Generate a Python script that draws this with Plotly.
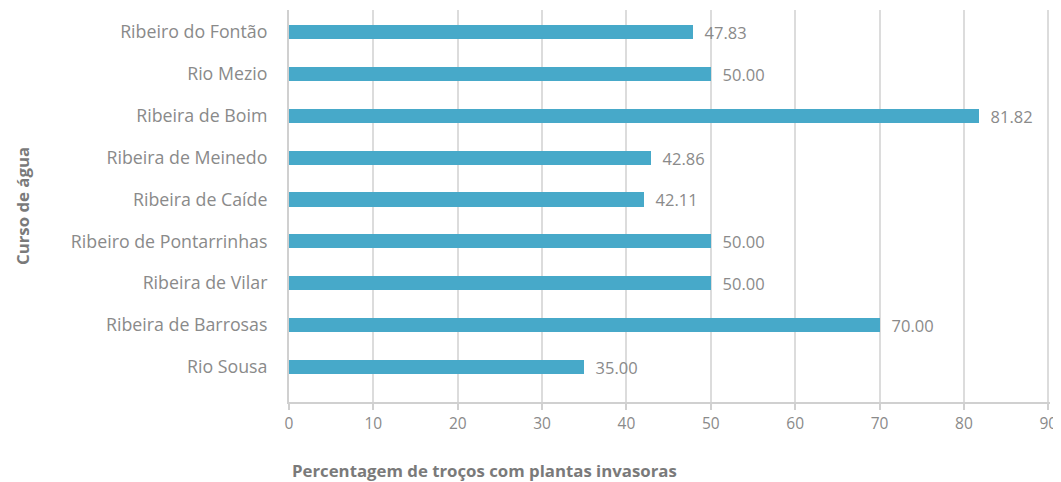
import plotly.graph_objects as go

categories = ["Rio Sousa", "Ribeira de Barrosas", "Ribeira de Vilar", "Ribeiro de Pontarrinhas",
              "Ribeira de Caíde", "Ribeira de Meinedo", "Ribeira de Boim", "Rio Mezio", "Ribeiro do Fontão"]
values = [35.00, 70.00, 50.00, 50.00, 42.11, 42.86, 81.82, 50.00, 47.83]
x_ticks = [0, 10, 20, 30, 40, 50, 60, 70, 80, 90]

FONT = "Open Sans"
GREY = "#8a8a8a"
TITLE_GREY = "#7a7a7a"

fig = go.Figure(go.Bar(
    y=categories, x=values, orientation="h",
    marker=dict(color="#47A9C9", line=dict(width=0)),
    width=0.34,
    text=["\u00a0\u00a0" + f"{v:.2f}" for v in values],
    textposition="outside",
    constraintext="none",
    textfont=dict(family=FONT, size=16.5, color=GREY),
    cliponaxis=False,
))

fig.update_layout(
    width=1053, height=474,
    margin=dict(l=281, r=11, t=2, b=80, autoexpand=False),
    plot_bgcolor="white", paper_bgcolor="white",
    showlegend=False,
    font=dict(family=FONT, color=GREY),
    xaxis=dict(range=[0, 90.2], tickvals=x_ticks, showgrid=True, gridcolor="#dcdcdc", gridwidth=2,
               showline=True, linecolor="#d0d0d0", linewidth=2, ticks="outside", ticklen=6,
               tickcolor="#d0d0d0", tickwidth=2, tickfont=dict(family=FONT, size=15.5, color=GREY),
               zeroline=False, automargin=False),
    yaxis=dict(range=[-0.84, 8.53], showline=True, linecolor="#d0d0d0", linewidth=2,
               showgrid=False, ticks="", ticklabelstandoff=16, automargin=False,
               tickfont=dict(family=FONT, size=17.8, color=GREY)),
    bargap=0,
)
fig.add_annotation(text="<b>Percentagem de troços com plantas invasoras</b>", xref="paper", yref="paper",
                   x=0, y=0, yshift=-68, xanchor="left", yanchor="middle", showarrow=False, xshift=1,
                   font=dict(family=FONT, size=16.8, color=TITLE_GREY))
fig.add_annotation(text="<b>Curso de água</b>", xref="paper", yref="paper", x=0, y=0.5, textangle=-90,
                   xanchor="center", yanchor="middle",
                   xshift=-267, showarrow=False, font=dict(family=FONT, size=16.8, color=TITLE_GREY))
fig.write_html("out.html")
